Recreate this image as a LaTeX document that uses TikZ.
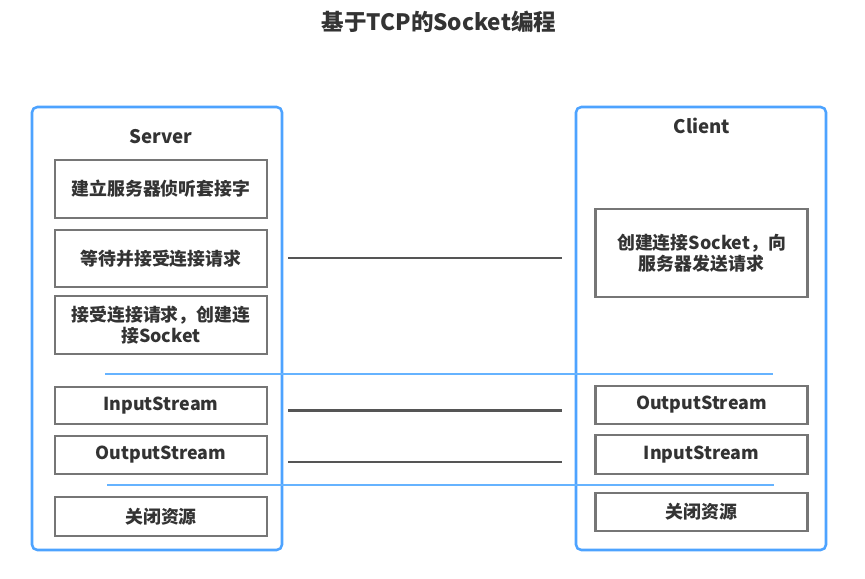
\documentclass[tikz,border=0pt]{standalone}
\usepackage{fontspec}
\setmainfont{Noto Sans CJK SC}
\usetikzlibrary{calc}
\definecolor{textc}{HTML}{333333}
\definecolor{boxgray}{HTML}{767676}
\definecolor{frameblue}{HTML}{4DA3FF}
\definecolor{lineblue}{HTML}{66B3FF}
\definecolor{connc}{HTML}{555555}
\begin{document}
\begin{tikzpicture}[x=0.75pt,y=-0.75pt,
  frame/.style={draw=frameblue, line width=1.9pt, rounded corners=4pt, fill=white},
  stepbox/.style={draw=boxgray, line width=1.6pt, fill=white, inner sep=0pt, align=center,
    text=textc, font=\fontsize{13.4}{16}\selectfont\bfseries, minimum width=159pt},
  heading/.style={text=textc, font=\fontsize{14}{16}\selectfont\bfseries},
  conn/.style={draw=connc, line width=2.2pt},
  divider/.style={draw=lineblue, line width=1.7pt}]
\useasboundingbox (0,0) rectangle (865,579);
\fill[white] (0,0) rectangle (865,579);
% title
\node[text=textc, font=\fontsize{16.9}{19}\selectfont\bfseries] (title) at (439,22) {基于TCP的Socket编程};
% frames
\draw[frame] (32,107) rectangle (282,550);
\draw[frame] (576,107) rectangle (826,550);
\node[heading] (server) at (161,137) {Server};
\node[heading] (client) at (702,126) {Client};
% server steps
\node[stepbox, minimum height=43.5pt] (s1) at (161,189) {建立服务器侦听套接字};
\node[stepbox, minimum height=42.75pt] (s2) at (161,258.5) {等待并接受连接请求};
\node[stepbox, minimum height=43.5pt] (s3) at (161,325) {接受连接请求，创建连\\接Socket};
\node[stepbox, minimum height=27.75pt] (s4) at (161,405.5) {InputStream};
\node[stepbox, minimum height=28.5pt] (s5) at (161,455) {OutputStream};
\node[stepbox, minimum height=29.25pt] (s6) at (161,516.5) {关闭资源};
% client steps
\node[stepbox, minimum height=66pt] (c1) at (701.5,253) {创建连接Socket，向\\服务器发送请求};
\node[stepbox, minimum height=28.5pt] (c2) at (701.5,405) {OutputStream};
\node[stepbox, minimum height=29.25pt] (c3) at (701.5,454.5) {InputStream};
\node[stepbox, minimum height=28.5pt] (c4) at (701.5,512) {关闭资源};
% connectors
\draw[conn, shorten <=15pt, shorten >=24pt] ([yshift=0.4pt]s2.east) -- ([yshift=0.4pt]s2.east -| c1.west);
\draw[conn, shorten <=15pt, shorten >=24pt] ([yshift=-3.4pt]s4.east) -- ([yshift=-3.4pt]s4.east -| c2.west);
\draw[conn, shorten <=15pt, shorten >=24pt] ([yshift=-5.25pt]s5.east) -- ([yshift=-5.25pt]s5.east -| c3.west);
% dividers
\coordinate (d1a) at (105,374);
\coordinate (d1b) at (773,374);
\coordinate (d2a) at (107,485);
\coordinate (d2b) at (774,485);
\draw[divider] (d1a) -- (d1b);
\draw[divider] (d2a) -- (d2b);
\end{tikzpicture}
\end{document}
